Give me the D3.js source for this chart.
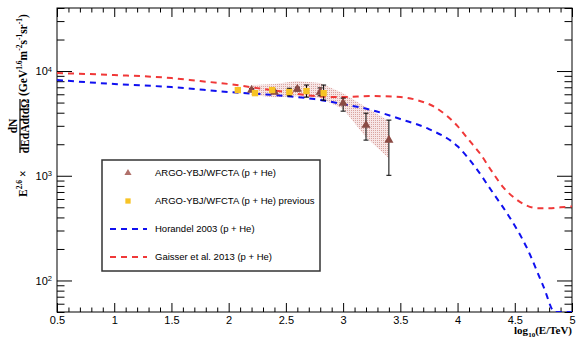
<!DOCTYPE html>
<head>
<meta charset="utf-8">
<title>ARGO-YBJ/WFCTA p + He spectrum</title>
<style>
body {
  margin: 0;
  background: #fff;
  font-family: "Liberation Sans", Arial, sans-serif;
}
.axis text { font-size: 11px; }
.axis .domain { stroke: none; }
.axis line { stroke: #000; stroke-width: 1; }
.ytitle, .xtitle { font-family: "Liberation Serif", "Times New Roman", serif; font-weight: bold; }
.leg text { font-size: 9.5px; }
</style>
<script src="https://d3js.org/d3.v7.min.js"></script>
</head>
<body>
<script>
// x axis: log10(E/TeV)
var xMajor = [0.5, 1, 1.5, 2, 2.5, 3, 3.5, 4, 4.5, 5];
var yMajor = [100, 1000, 10000];

// Horandel 2003 (p + He)
var horLogE = [0.5, 1.0, 1.5, 2.0, 2.5, 2.75, 3.0, 3.25, 3.5, 3.75, 4.0, 4.15, 4.3, 4.45, 4.6, 4.75, 4.85, 5.0];
var horFlux = [8200, 7520, 7030, 6310, 5770, 5400, 4830, 4240, 3480, 2790, 1910, 1230, 711, 409, 211, 88, 50, 22];

// Gaisser et al. 2013 (p + He)
var gaiLogE = [0.5, 1.0, 1.5, 1.75, 2.0, 2.25, 2.5, 2.75, 3.0, 3.25, 3.5, 3.65, 3.8, 3.9, 4.0, 4.1, 4.2, 4.3, 4.4, 4.5, 4.6, 4.7, 4.8, 4.9, 5.0];
var gaiFlux = [9570, 9160, 8570, 8020, 7520, 6870, 6300, 5770, 5640, 5770, 5640, 5270, 4530, 3790, 2980, 2190, 1610, 1100, 776, 610, 522, 489, 489, 500, 510];

// ARGO-YBJ/WFCTA (p + He)
var argoLogE = [2.2, 2.4, 2.6, 2.8, 3.0, 3.2, 3.4];
var argoFlux = [6580, 6300, 6730, 6300, 4940, 3040, 2190];
var argoLow  = [6400, 6100, 6450, 5800, 4140, 2190, 1010];
var argoHigh = [6800, 6500, 7000, 6900, 5520, 3960, 3400];
// systematic band
var bandUp  = [7350, 7510, 8020, 7680, 6150, 4520, 3330];
var bandLow = [5890, 5630, 5760, 5520, 4330, 2330, 1470];

// ARGO-YBJ/WFCTA (p + He) previous
var prevLogE = [2.08, 2.23, 2.38, 2.53, 2.68, 2.83];
var prevFlux = [6580, 6150, 6580, 6300, 6440, 6150];
var prevLow  = [6300, 5900, 6250, 5800, 5630, 5270];
var prevHigh = [6850, 6400, 6900, 6850, 7350, 7350];

var legendLabels = ["ARGO-YBJ/WFCTA (p + He)", "ARGO-YBJ/WFCTA (p + He) previous",
                    "Horandel 2003 (p + He)", "Gaisser et al. 2013 (p + He)"];

var triColor = "#8a4a44", sqColor = "#f7c325", blue = "#1010f0", red = "#f03838";

var margin = { top: 8, right: 4, bottom: 26, left: 57 },
    width = 576, height = 338,
    w = width - margin.left - margin.right,
    h = height - margin.top - margin.bottom;

var x = d3.scaleLinear().domain([0.5, 5]).range([0, w]);
var y = d3.scaleLog().domain([50, 40000]).range([h, 0]).clamp(true);

var root = d3.select("body").append("svg")
    .attr("width", width).attr("height", height);
var svg = root.append("g")
    .attr("transform", "translate(" + margin.left + "," + margin.top + ")");

var defs = root.append("defs");
defs.append("clipPath").attr("id", "clip")
  .append("rect").attr("width", w).attr("height", h);
var pat = defs.append("pattern").attr("id", "dots")
    .attr("patternUnits", "userSpaceOnUse").attr("width", 2).attr("height", 2);
pat.append("rect").attr("width", 2).attr("height", 2).attr("fill", "#f7e6e6");
pat.append("rect").attr("width", 1).attr("height", 1).attr("fill", "#d9a4a0");

// minor tick values
var xMinor = d3.range(0.5, 5.001, 0.1).filter(function(d) {
  return Math.abs(d * 2 - Math.round(d * 2)) > 1e-6;
});
var yMinor = [];
[10, 100, 1000, 10000].forEach(function(dec) {
  for (var k = 2; k <= 9; k++) {
    var v = k * dec;
    if (v >= 50 && v <= 40000) yMinor.push(v);
  }
});

// ticks on all four sides, pointing inward
svg.append("g").attr("class", "axis").attr("transform", "translate(0," + h + ")")
    .call(d3.axisBottom(x).tickValues(xMajor).tickSize(-9).tickSizeOuter(0).tickPadding(4)
      .tickFormat(d3.format("")));
svg.append("g").attr("class", "axis").attr("transform", "translate(0," + h + ")")
    .call(d3.axisBottom(x).tickValues(xMinor).tickSize(-4.5).tickSizeOuter(0).tickFormat(""));
svg.append("g").attr("class", "axis")
    .call(d3.axisTop(x).tickValues(xMajor).tickSize(-9).tickSizeOuter(0).tickFormat(""));
svg.append("g").attr("class", "axis")
    .call(d3.axisTop(x).tickValues(xMinor).tickSize(-4.5).tickSizeOuter(0).tickFormat(""));

var yAx = svg.append("g").attr("class", "axis")
    .call(d3.axisLeft(y).tickValues(yMajor).tickSize(-15).tickSizeOuter(0).tickFormat(""));
svg.append("g").attr("class", "axis")
    .call(d3.axisLeft(y).tickValues(yMinor).tickSize(-7.5).tickSizeOuter(0).tickFormat(""));
svg.append("g").attr("class", "axis").attr("transform", "translate(" + w + ",0)")
    .call(d3.axisRight(y).tickValues(yMajor).tickSize(-15).tickSizeOuter(0).tickFormat(""));
svg.append("g").attr("class", "axis").attr("transform", "translate(" + w + ",0)")
    .call(d3.axisRight(y).tickValues(yMinor).tickSize(-7.5).tickSizeOuter(0).tickFormat(""));

// 10^n labels
yAx.selectAll(".tick").append("text")
    .attr("x", -5).attr("dy", "0.35em").attr("text-anchor", "end").attr("fill", "#000")
    .each(function(d) {
      var t = d3.select(this);
      t.append("tspan").text("10");
      t.append("tspan").attr("dy", "-0.5em").style("font-size", "7.5px").text(Math.round(Math.log10(d)));
    });

// frame
svg.append("rect").attr("width", w).attr("height", h)
    .attr("fill", "none").attr("stroke", "#000").attr("stroke-width", 1);

var plot = svg.append("g").attr("clip-path", "url(#clip)");

// systematic band
var band = argoLogE.map(function(d, i) { return { e: d, lo: bandLow[i], hi: bandUp[i] }; });
plot.append("path").datum(band)
    .attr("fill", "url(#dots)")
    .attr("d", d3.area()
      .x(function(d) { return x(d.e); })
      .y0(function(d) { return y(d.lo); })
      .y1(function(d) { return y(d.hi); }));

// model curves
var line = d3.line()
    .x(function(d) { return x(d[0]); })
    .y(function(d) { return y(d[1]); })
    .curve(d3.curveMonotoneX);

plot.append("path").datum(d3.zip(gaiLogE, gaiFlux))
    .attr("fill", "none").attr("stroke", red).attr("stroke-width", 2)
    .attr("stroke-dasharray", "6,5").attr("d", line);
plot.append("path").datum(d3.zip(horLogE, horFlux))
    .attr("fill", "none").attr("stroke", blue).attr("stroke-width", 2)
    .attr("stroke-dasharray", "6,5").attr("d", line);

// error bars
function errBars(logE, lo, hi, cap) {
  var g = plot.append("g").attr("stroke", "#000").attr("stroke-width", 1);
  logE.forEach(function(e, i) {
    g.append("line").attr("x1", x(e)).attr("x2", x(e)).attr("y1", y(lo[i])).attr("y2", y(hi[i]));
    if (cap) {
      g.append("line").attr("x1", x(e) - 2.5).attr("x2", x(e) + 2.5).attr("y1", y(lo[i])).attr("y2", y(lo[i]));
      g.append("line").attr("x1", x(e) - 2.5).attr("x2", x(e) + 2.5).attr("y1", y(hi[i])).attr("y2", y(hi[i]));
    }
  });
}
errBars(argoLogE, argoLow, argoHigh, true);
errBars(prevLogE, prevLow, prevHigh, true);

var tri = d3.symbol().type(d3.symbolTriangle).size(36);
var sq = d3.symbol().type(d3.symbolSquare).size(40);

plot.selectAll(".tri").data(argoLogE).enter().append("path")
    .attr("class", "tri")
    .attr("transform", function(d, i) { return "translate(" + x(d) + "," + y(argoFlux[i]) + ")"; })
    .attr("d", tri).attr("fill", triColor);
plot.selectAll(".sq").data(prevLogE).enter().append("path")
    .attr("class", "sq")
    .attr("transform", function(d, i) { return "translate(" + x(d) + "," + y(prevFlux[i]) + ")"; })
    .attr("d", sq).attr("fill", sqColor);

// legend
var leg = root.append("g").attr("class", "leg");
leg.append("rect").attr("x", 102).attr("y", 160).attr("width", 218).attr("height", 111)
    .attr("fill", "none").attr("stroke", "#333").attr("stroke-width", 1.5);
var rowY = [173, 201, 229, 257];
leg.selectAll("text").data(legendLabels).enter().append("text")
    .attr("x", 155).attr("y", function(d, i) { return rowY[i]; })
    .attr("dy", "0.35em").text(function(d) { return d; });
leg.append("path").attr("d", d3.symbol().type(d3.symbolTriangle).size(22))
    .attr("transform", "translate(128," + rowY[0] + ")").attr("fill", "#b0706a");
leg.append("path").attr("d", d3.symbol().type(d3.symbolSquare).size(28))
    .attr("transform", "translate(128," + rowY[1] + ")").attr("fill", sqColor);
leg.append("line").attr("x1", 110).attr("x2", 147).attr("y1", rowY[2]).attr("y2", rowY[2])
    .attr("stroke", blue).attr("stroke-width", 2).attr("stroke-dasharray", "6,5");
leg.append("line").attr("x1", 110).attr("x2", 147).attr("y1", rowY[3]).attr("y2", rowY[3])
    .attr("stroke", red).attr("stroke-width", 2).attr("stroke-dasharray", "6,5");

// x title
var xt = root.append("text").attr("class", "xtitle")
    .attr("x", 572).attr("y", 334).attr("text-anchor", "end").style("font-size", "11px");
xt.append("tspan").text("log");
xt.append("tspan").attr("dy", 2.5).style("font-size", "7px").text("10");
xt.append("tspan").attr("dy", -2.5).text("(E/TeV)");

// y title, rotated
var yt = root.append("g").attr("class", "ytitle")
    .attr("transform", "translate(27,0) rotate(-90)").style("font-size", "11.5px");
var t1 = yt.append("text").attr("x", -197).attr("y", 0);
t1.append("tspan").text("E");
t1.append("tspan").attr("dy", -5).style("font-size", "7.5px").text("2.6");
t1.append("tspan").attr("dy", 5).text(" \u00d7");
yt.append("text").attr("x", -126).attr("y", -10).attr("text-anchor", "middle").text("dN");
yt.append("line").attr("x1", -153).attr("x2", -99).attr("y1", -7).attr("y2", -7)
    .attr("stroke", "#000").attr("stroke-width", 1.2);
yt.append("text").attr("x", -126).attr("y", 2).attr("text-anchor", "middle").text("dEdAdtd\u03a9");
var t2 = yt.append("text").attr("x", -96).attr("y", 0);
t2.append("tspan").text("(GeV");
t2.append("tspan").attr("dy", -5).style("font-size", "7.5px").text("1.6");
t2.append("tspan").attr("dy", 5).text("m");
t2.append("tspan").attr("dy", -5).style("font-size", "7.5px").text("-2");
t2.append("tspan").attr("dy", 5).text("s");
t2.append("tspan").attr("dy", -5).style("font-size", "7.5px").text("-1");
t2.append("tspan").attr("dy", 5).text("sr");
t2.append("tspan").attr("dy", -5).style("font-size", "7.5px").text("-1");
t2.append("tspan").attr("dy", 5).text(")");
</script>
</body>
